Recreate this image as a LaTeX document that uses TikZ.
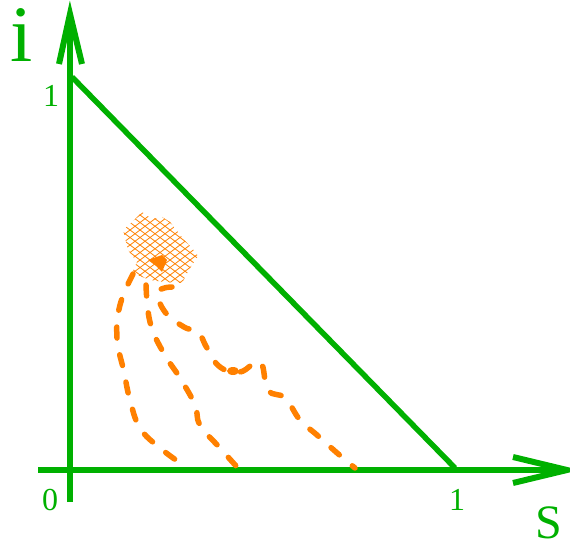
\documentclass[tikz,border=0pt]{standalone}
\usepackage{fontspec}
\setmainfont{Liberation Serif}
\definecolor{grn}{RGB}{0,176,0}
\definecolor{org}{RGB}{255,128,0}
\tikzset{
  axis/.style={draw=grn, line width=6pt},
  tip/.style={draw=grn, line width=6pt, line join=miter},
  tri/.style={draw=grn, line width=5.5pt},
  lab/.style={text=grn, anchor=base, inner sep=0pt},
  hatch/.style={draw=org, line width=0.8pt},
  traj/.style={draw=org, line width=5.5pt, line cap=round, dash pattern=on 11pt off 17pt},
}
\begin{document}
\begin{tikzpicture}[x=1pt,y=-1pt]
\useasboundingbox (0,0) rectangle (570,548);
% axes
\coordinate (O) at (70,470);
\coordinate (yb) at (70,502);
\coordinate (yt) at (70,16);
\coordinate (xl) at (38,470);
\coordinate (xr) at (566,470);
\draw[axis] (yb) -- (yt);
\draw[axis] (xl) -- (xr);
\draw[tip] (59,64) -- (70,14) -- (82,64);
\draw[tip] (513,457) -- (567,470) -- (513,483);
% triangle edge
\coordinate (P1) at (72,77);
\coordinate (P2) at (455,468);
\draw[tri] (P1) -- (P2);
% labels
\node[lab, font=\fontsize{80}{80}\selectfont] (li) at (22,62) {i};
\node[lab, font=\fontsize{32}{32}\selectfont] (l1y) at (51,107) {1};
\node[lab, font=\fontsize{32}{32}\selectfont] (l0) at (50,510) {0};
\node[lab, font=\fontsize{32}{32}\selectfont] (l1x) at (457,510) {1};
\node[lab, font=\fontsize{48}{48}\selectfont] (lS) at (549,538) {S};
% hatched blob
\begin{scope}
\clip (142,212) -- (152,219) -- (162,217) -- (170,222) -- (178,232) -- (184,240) -- (192,248) -- (198,256)
  -- (190,268) -- (182,283) -- (165,282) -- (150,280) -- (132,273) -- (137,262) -- (128,250) -- (123,230) -- (132,222) -- cycle;
\foreach \k in {-30,...,30} {
  \draw[hatch] (140+\k*10,200) -- ++(120,90);
  \draw[hatch] (140+\k*10,200) -- ++(-120,90);
}
\end{scope}
\fill[org] (148,260) -- (162,255) -- (167,260) -- (162,272) -- (156,266) -- cycle;
% trajectories
\draw[traj] plot[smooth, tension=0.7] coordinates {(133,274) (120,305) (117,338) (124,372) (130,400) (140,428) (160,448) (186,467)};
\draw[traj] plot[smooth, tension=0.7] coordinates {(146,285) (150,322) (163,352) (180,378) (195,405) (200,425) (220,448) (237,467)};
\draw[traj] plot[smooth, tension=0.7] coordinates {(172,287) (158,292) (165,312) (184,327) (198,332) (207,348) (220,367) (240,372) (260,362) (268,390) (285,398) (300,420) (317,435) (336,452) (355,468)};
\fill[org] (233,371) ellipse (6pt and 4pt);
\end{tikzpicture}
\end{document}
